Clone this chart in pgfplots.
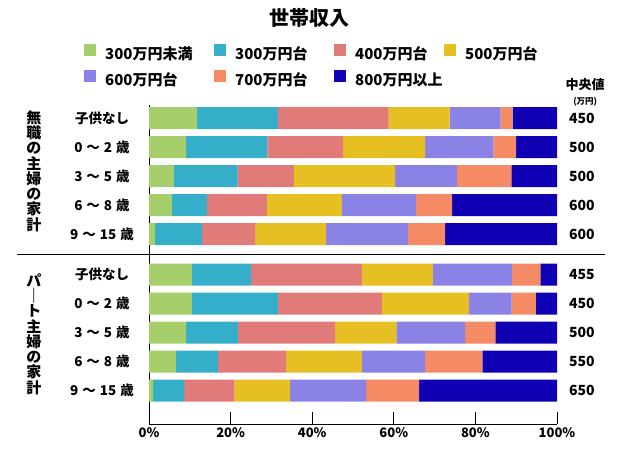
\documentclass[border=0pt]{standalone}
\usepackage{fontspec}
\setmainfont{Noto Sans CJK JP}
\usepackage{pgfplots}
\usepackage{pgfplotstable}
\pgfplotsset{compat=1.18}
\definecolor{c1}{HTML}{A6CF6B}
\definecolor{c2}{HTML}{35AEC9}
\definecolor{c3}{HTML}{E07B7A}
\definecolor{c4}{HTML}{E6C023}
\definecolor{c5}{HTML}{8B82E6}
\definecolor{c6}{HTML}{F48B64}
\definecolor{c7}{HTML}{0F00B4}
\newcommand{\ag}[2]{#1\hspace{4pt}～\hspace{4pt}#2\hspace{4pt}歳}
\pgfplotstableread{
pos a b c d e f g
10.55 11.8 19.8 27.1 15.0 12.5 2.9 10.9
9.55 9.1 19.9 18.6 20.1 16.7 5.6 10.0
8.55 6.1 15.6 13.8 24.8 15.2 13.3 11.2
7.55 5.6 8.6 14.7 18.4 18.2 8.8 25.7
6.55 1.5 11.5 13.0 17.4 20.1 9.1 27.4
5.15 10.5 14.5 27.2 17.4 19.4 6.9 4.1
4.15 10.5 21.1 25.5 21.3 10.5 5.9 5.2
3.15 9.1 12.7 23.8 15.0 16.9 7.4 15.1
2.15 6.6 10.3 16.7 18.6 15.5 14.0 18.3
1.15 1.0 7.6 12.3 13.7 18.6 13.0 33.8
}\incometable
\begin{document}
\bfseries
\begin{tikzpicture}
\path[use as bounding box] (0,0) rectangle (620pt,450pt);
\begin{axis}[
  at={(149pt,26pt)}, anchor=south west,
  scale only axis, width=408pt, height=319pt,
  xmin=0, xmax=100, ymin=0, ymax=11,
  xbar stacked, bar width=22pt,
  axis lines*=left,
  axis line style={line width=1pt, black},
  xtick={0,20,40,60,80,100},
  xticklabels={0\%,20\%,40\%,60\%,80\%,100\%},
  tick align=inside,
  major tick length=12pt,
  xtick style={line width=1pt, black},
  ytick={10.55,9.55,8.55,7.55,6.55,5.15,4.15,3.15,2.15,1.15},
  yticklabels={子供なし,\ag{0}{2},\ag{3}{5},\ag{6}{8},\ag{9}{15},子供なし,\ag{0}{2},\ag{3}{5},\ag{6}{8},\ag{9}{15}},
  ytick style={draw=none},
  yticklabel style={anchor=center, xshift=-47pt, font=\fontsize{13.5}{15}\selectfont},
  xticklabel style={font=\fontsize{13}{15}\selectfont},
  clip=false,
  legend columns=4,
  legend style={at={(-0.1593,1.191)}, anchor=north west, draw=none, fill=none,
    inner sep=0pt, column sep=0pt, row sep=8pt,
    nodes={inner sep=0pt, text height=11pt, text depth=3pt},
    font=\fontsize{15}{17}\selectfont},
]
\addplot[fill=c1, draw=none, legend image code/.code={\fill[c1] (0pt,-1pt) rectangle (12pt,11pt);}] table[x=a, y=pos] {\incometable};
\addlegendentry{\makebox[118pt][l]{\hspace{9pt}300万円未満}}
\addplot[fill=c2, draw=none, legend image code/.code={\fill[c2] (0pt,-1pt) rectangle (12pt,11pt);}] table[x=b, y=pos] {\incometable};
\addlegendentry{\makebox[108pt][l]{\hspace{9pt}300万円台}}
\addplot[fill=c3, draw=none, legend image code/.code={\fill[c3] (0pt,-1pt) rectangle (12pt,11pt);}] table[x=c, y=pos] {\incometable};
\addlegendentry{\makebox[98pt][l]{\hspace{9pt}400万円台}}
\addplot[fill=c4, draw=none, legend image code/.code={\fill[c4] (0pt,-1pt) rectangle (12pt,11pt);}] table[x=d, y=pos] {\incometable};
\addlegendentry{\makebox[90pt][l]{\hspace{9pt}500万円台}}
\addplot[fill=c5, draw=none, legend image code/.code={\fill[c5] (0pt,-1pt) rectangle (12pt,11pt);}] table[x=e, y=pos] {\incometable};
\addlegendentry{\makebox[118pt][l]{\hspace{9pt}600万円台}}
\addplot[fill=c6, draw=none, legend image code/.code={\fill[c6] (0pt,-1pt) rectangle (12pt,11pt);}] table[x=f, y=pos] {\incometable};
\addlegendentry{\makebox[108pt][l]{\hspace{9pt}700万円台}}
\addplot[fill=c7, draw=none, legend image code/.code={\fill[c7] (0pt,-1pt) rectangle (12pt,11pt);}] table[x=g, y=pos] {\incometable};
\addlegendentry{\makebox[98pt][l]{\hspace{9pt}800万円以上}}
\node[font=\fontsize{20}{22}\selectfont] at (axis cs:39.3,14.0) {世帯収入};
\node[font=\fontsize{13}{15}\selectfont] at (axis cs:106.9,11.69) {中央値};
\node[font=\fontsize{8.5}{10}\selectfont] at (axis cs:106.9,11.10) {(万円)};
\node[font=\fontsize{14}{16}\selectfont] at (axis cs:106.1,10.55) {450};
\node[font=\fontsize{14}{16}\selectfont] at (axis cs:106.1,9.55) {500};
\node[font=\fontsize{14}{16}\selectfont] at (axis cs:106.1,8.55) {500};
\node[font=\fontsize{14}{16}\selectfont] at (axis cs:106.1,7.55) {600};
\node[font=\fontsize{14}{16}\selectfont] at (axis cs:106.1,6.55) {600};
\node[font=\fontsize{14}{16}\selectfont] at (axis cs:106.1,5.15) {455};
\node[font=\fontsize{14}{16}\selectfont] at (axis cs:106.1,4.15) {450};
\node[font=\fontsize{14}{16}\selectfont] at (axis cs:106.1,3.15) {500};
\node[font=\fontsize{14}{16}\selectfont] at (axis cs:106.1,2.15) {550};
\node[font=\fontsize{14}{16}\selectfont] at (axis cs:106.1,1.15) {650};
\node[align=center, font=\fontsize{15}{15.25}\selectfont] at (axis cs:-28.2,8.72) {無\\職\\の\\主\\婦\\の\\家\\計};
\node[align=center, font=\fontsize{15}{15.25}\selectfont] at (axis cs:-28.2,3.10) {パ\\｜\\ト\\主\\婦\\の\\家\\計};
\draw[line width=0.9pt] (axis cs:-32.4,5.86) -- (axis cs:111.8,5.86);
\end{axis}
\end{tikzpicture}
\end{document}
